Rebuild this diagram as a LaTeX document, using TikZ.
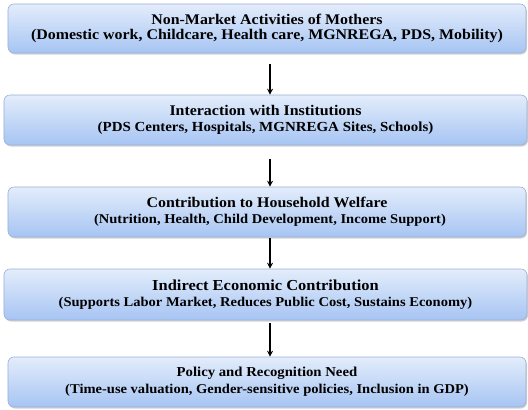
\documentclass[tikz,border=0pt]{standalone}
\usepackage{fontspec}
\setmainfont[FakeStretch=1.08]{Liberation Serif}
\usetikzlibrary{arrows.meta,calc,shadows}

\definecolor{boxtop}{HTML}{E3EDFB}
\definecolor{boxbot}{HTML}{A6C4F3}
\definecolor{boxline}{HTML}{9AB0D4}
% one line of a stage at a given size
\newcommand{\hdline}[2]{{\fontsize{#1}{#1}\selectfont #2}}

\begin{document}
\begin{tikzpicture}[x=1bp,y=-1bp,
  font=\bfseries, >={Stealth[length=6bp,width=6bp]},
  stage/.style={draw=boxline,line width=0.6bp,rounded corners=6bp,
    top color=boxtop,bottom color=boxbot,align=center,inner sep=0pt,
    drop shadow={shadow xshift=1bp,shadow yshift=-1.5bp,opacity=0.35}},
  flow/.style={->,line width=1.1bp}]
\useasboundingbox (0,0) rectangle (528,409);
% five stages, top to bottom
\node[stage,minimum width=518bp,minimum height=49bp] (b1) at (267,28.5)
  {\hdline{14.8}{Non-Market Activities of Mothers}\\[3bp]
   \hdline{14.8}{(Domestic work, Childcare, Health care, MGNREGA, PDS, Mobility)}};
\node[stage,minimum width=523bp,minimum height=50bp] (b2) at (265.5,120)
  {\hdline{14.8}{Interaction with Institutions}\\[4bp]
   \hdline{13.9}{(PDS Centers, Hospitals, MGNREGA Sites, Schools)}};
\node[stage,minimum width=518bp,minimum height=50bp] (b3) at (267,212)
  {\hdline{14.8}{Contribution to Household Welfare}\\[4bp]
   \hdline{13.5}{\hspace*{6bp}(Nutrition, Health, Child Development, Income Support)}};
\node[stage,minimum width=523bp,minimum height=51bp] (b4) at (265.5,294.5)
  {\hdline{15.3}{Indirect Economic Contribution}\\[4bp]
   \hdline{13.5}{(Supports Labor Market, Reduces Public Cost, Sustains Economy)}};
\node[stage,minimum width=518bp,minimum height=50bp] (b5) at (267,382)
  {\hdline{13.7}{Policy and Recognition Need}\\[4bp]
   \hdline{13.5}{(Time-use valuation, Gender-sensitive policies, Inclusion in GDP)}};
% arrows between stages
\coordinate (ax) at (270,0);
\draw[flow,shorten <=11bp] (b1.south -| ax) -- (b2.north -| ax);
\draw[flow,shorten <=14bp] (b2.south -| ax) -- (b3.north -| ax);
\draw[flow,shorten <=1bp] (b3.south -| ax) -- (b4.north -| ax);
\draw[flow,shorten <=3bp] (b4.south -| ax) -- (b5.north -| ax);
\end{tikzpicture}
\end{document}
